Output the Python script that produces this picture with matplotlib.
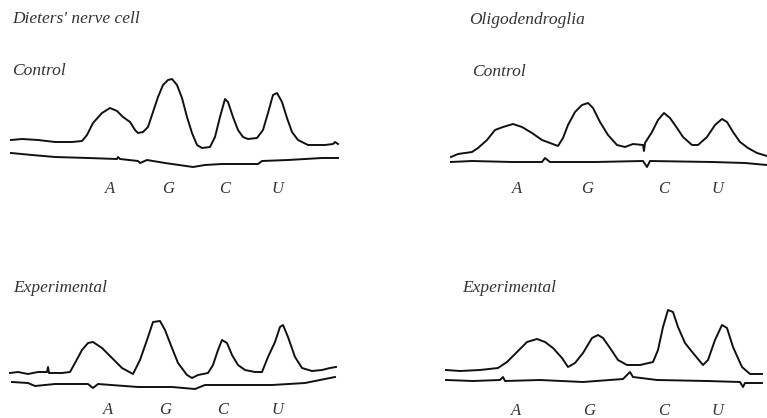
import matplotlib
matplotlib.use("Agg")
import matplotlib.pyplot as plt

# traces, in picture units (x right, y down)
dieters_control_x = [11, 22, 38, 55, 72, 82, 87, 93, 102, 110, 117, 123, 130, 132, 135, 138, 143, 148, 153,
                     158, 163, 168, 172, 177, 182, 187, 192, 197, 202, 210, 215, 220, 225, 228, 233, 238,
                     243, 248, 257, 263, 268, 273, 277, 282, 287, 292, 298, 308, 317, 325, 333, 335, 338]
dieters_control_y = [140, 139, 140, 142, 142, 141, 135, 123, 113, 108, 111, 117, 122, 125, 130, 133, 132, 127, 112,
                     97, 85, 80, 79, 85, 98, 117, 133, 145, 148, 147, 137, 117, 99, 102, 117, 130,
                     137, 139, 138, 130, 113, 95, 93, 102, 118, 132, 140, 145, 145, 145, 144, 142, 144]
dieters_control_base_x = [11, 32, 55, 88, 117, 118, 120, 138, 140, 147, 165, 193, 205, 222, 258, 262, 288, 322, 338]
dieters_control_base_y = [153, 155, 157, 158, 159, 157, 159, 161, 163, 160, 163, 167, 165, 164, 164, 161, 160, 158, 158]

oligo_control_x = [451, 458, 472, 478, 487, 495, 503, 513, 522, 532, 542, 550, 558, 563, 568, 575, 582, 588,
                   593, 600, 608, 617, 625, 633, 643, 644, 645, 652, 658, 664, 670, 677, 683, 692, 698,
                   707, 715, 722, 727, 733, 740, 748, 757, 767]
oligo_control_y = [157, 154, 152, 148, 140, 130, 127, 124, 127, 133, 140, 143, 146, 138, 125, 112, 105, 103,
                   108, 122, 135, 145, 147, 144, 145, 151, 143, 132, 120, 113, 118, 128, 137, 145, 145,
                   137, 125, 119, 122, 132, 142, 148, 153, 156]
oligo_control_base_x = [451, 472, 512, 542, 545, 550, 595, 643, 647, 650, 712, 745, 767]
oligo_control_base_y = [162, 161, 162, 162, 158, 162, 162, 161, 167, 161, 162, 163, 165]

dieters_exp_x = [10, 18, 28, 38, 47, 48, 49, 62, 70, 75, 82, 88, 93, 102, 112, 122, 133, 140, 147, 153,
                 160, 165, 172, 178, 187, 192, 198, 208, 213, 218, 222, 227, 232, 238, 245, 255, 262,
                 268, 275, 280, 283, 288, 295, 302, 312, 322, 330, 336]
dieters_exp_y = [373, 372, 374, 372, 372, 367, 373, 373, 372, 363, 350, 343, 342, 348, 358, 368, 374, 360, 340, 322,
                 321, 330, 348, 363, 375, 378, 375, 373, 365, 350, 340, 343, 355, 365, 370, 372, 372,
                 357, 342, 327, 325, 337, 357, 368, 371, 370, 368, 367]
dieters_exp_base_x = [12, 28, 35, 55, 88, 93, 98, 138, 172, 195, 205, 245, 272, 305, 335]
dieters_exp_base_y = [382, 383, 386, 384, 384, 388, 384, 387, 387, 389, 385, 385, 385, 383, 377]

oligo_exp_x = [446, 460, 480, 498, 507, 517, 527, 537, 545, 553, 562, 568, 575, 583, 592, 598, 603, 610,
               618, 627, 640, 653, 658, 663, 668, 673, 678, 685, 693, 703, 708, 715, 722, 727, 733,
               742, 750, 762]
oligo_exp_y = [370, 371, 370, 368, 362, 352, 342, 339, 342, 348, 358, 367, 363, 353, 338, 335, 338, 348,
               360, 365, 365, 362, 350, 327, 310, 312, 327, 343, 353, 365, 360, 340, 325, 328, 347,
               367, 374, 374]
oligo_exp_base_x = [446, 473, 500, 503, 505, 540, 583, 623, 630, 633, 657, 707, 740, 743, 745, 762]
oligo_exp_base_y = [380, 381, 380, 377, 381, 380, 382, 379, 372, 377, 380, 381, 382, 387, 383, 383]

bases = ["A", "G", "C", "U"]
dieters_control_label_x = [110, 168, 225, 277]
oligo_control_label_x = [517, 587, 664, 717]
dieters_exp_label_x = [108, 165, 223, 277]
oligo_exp_label_x = [516, 589, 664, 717]

titles = ["Dieters' nerve cell", "Oligodendroglia"]
conditions = ["Control", "Control", "Experimental", "Experimental"]

fig = plt.figure(figsize=(7.67, 4.18), dpi=100)
ax = fig.add_axes([0, 0, 1, 1])
ax.set_xlim(0, 767)
ax.set_ylim(418, 0)
ax.axis("off")

font = dict(family="Liberation Serif", style="italic", color="#333333")

traces = [
    (dieters_control_x, dieters_control_y), (dieters_control_base_x, dieters_control_base_y),
    (oligo_control_x, oligo_control_y), (oligo_control_base_x, oligo_control_base_y),
    (dieters_exp_x, dieters_exp_y), (dieters_exp_base_x, dieters_exp_base_y),
    (oligo_exp_x, oligo_exp_y), (oligo_exp_base_x, oligo_exp_base_y),
]
for xs, ys in traces:
    ax.plot(xs, ys, color="#111111", lw=1.4, solid_joinstyle="round")

# headings
ax.text(12, 19, titles[0], fontsize=12.5, va="center", ha="left", **font)
ax.text(469, 20, titles[1], fontsize=12.5, va="center", ha="left", **font)
ax.text(12, 71, conditions[0], fontsize=12.5, va="center", ha="left", **font)
ax.text(472, 72, conditions[1], fontsize=12.5, va="center", ha="left", **font)
ax.text(13, 288, conditions[2], fontsize=12.5, va="center", ha="left", **font)
ax.text(462, 288, conditions[3], fontsize=12.5, va="center", ha="left", **font)

# base labels under each trace
for xs, y in [(dieters_control_label_x, 189), (oligo_control_label_x, 189),
              (dieters_exp_label_x, 410), (oligo_exp_label_x, 411)]:
    for b, x in zip(bases, xs):
        ax.text(x, y, b, fontsize=12, va="center", ha="center", **font)

fig.savefig("out.png", dpi=100)
